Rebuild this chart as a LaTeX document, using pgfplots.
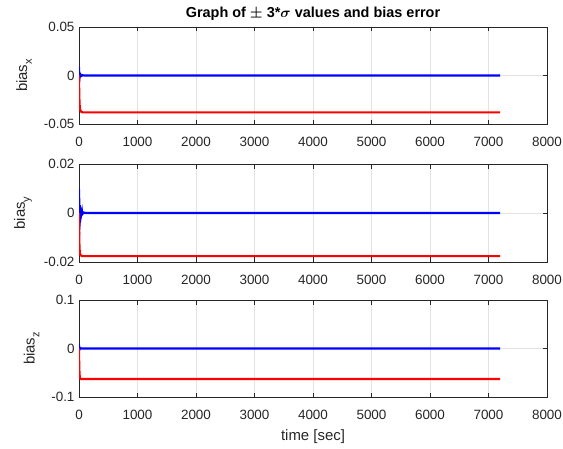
\documentclass[border=0pt]{standalone}
\usepackage{pgfplots}
\pgfplotsset{compat=1.18}
\usepackage{fontspec}
\setmainfont{Liberation Sans}
\definecolor{axgray}{HTML}{262626}
\definecolor{gridgray}{HTML}{E3E3E3}
\pgfplotsset{
  mlab/.style={
    scale only axis, width=468bp, height=97bp,
    xmin=0, xmax=8000,
    xtick={0,1000,2000,3000,4000,5000,6000,7000,8000},
    xticklabels={0,1000,2000,3000,4000,5000,6000,7000,8000},
    scaled x ticks=false, scaled y ticks=false,
    grid=major,
    grid style={gridgray, line width=0.5bp},
    axis line style={axgray, line width=0.6bp},
    tick style={axgray, line width=0.6bp},
    tick align=inside,
    major tick length=4.5bp,
    ticklabel style={font=\fontsize{13.5}{13.5}\selectfont, text=axgray},
    xticklabel style={yshift=-10bp},
    yticklabel style={xshift=-1bp},
    label style={font=\fontsize{15}{15}\selectfont, text=axgray},
    ylabel style={yshift=5bp},
    xlabel style={yshift=-3bp},
    every axis plot/.append style={line width=2.2bp},
    clip=true,
  }
}
\begin{document}
\begin{tikzpicture}
\path[use as bounding box] (0,0) rectangle (563bp,-449bp);
% top
\begin{axis}[mlab, at={(79bp,-27bp)}, anchor=north west,
  ymin=-0.05, ymax=0.05, ytick={-0.05,0,0.05}, yticklabels={-0.05,0,0.05},
  ylabel={bias\raisebox{-0.6ex}{\fontsize{11}{11}\selectfont x}},
  title={\textbf{Graph of \boldmath$\pm$ 3*$\sigma$ values and bias error}},
  title style={font=\fontsize{14.5}{14.5}\selectfont, text=black, yshift=-3bp}]
\addplot[blue] coordinates {(0,0.0088) (2,-0.0077) (5,0.004) (8,-0.003) (14,0.0015) (18,-0.001) (30,0.0006) (40,-0.0004) (60,0.0002) (100,0) (7200,0)};
\addplot[red] coordinates {(0,0) (3,-0.015) (8,-0.028) (15,-0.034) (30,-0.037) (60,-0.038) (7200,-0.038)};
\end{axis}
% middle
\begin{axis}[mlab, at={(79bp,-164bp)}, anchor=north west, height=98bp,
  ymin=-0.02, ymax=0.02, ytick={-0.02,0,0.02}, yticklabels={-0.02,0,0.02},
  ylabel={bias\raisebox{-0.6ex}{\fontsize{11}{11}\selectfont y}}]
\addplot[blue] coordinates {(0,0.0097) (2,-0.009) (6,0.006) (9,-0.0055) (15,0.0032) (19,-0.003) (30,0.0015) (34,-0.0013) (50,0.0006) (55,-0.0005) (80,0.0002) (120,0) (7200,0)};
\addplot[red] coordinates {(0,0) (3,-0.009) (8,-0.014) (15,-0.0165) (30,-0.0173) (60,-0.0176) (7200,-0.0176)};
\end{axis}
% bottom
\begin{axis}[mlab, at={(79bp,-300bp)}, anchor=north west,
  ymin=-0.1, ymax=0.1, ytick={-0.1,0,0.1}, yticklabels={-0.1,0,0.1},
  ylabel={bias\raisebox{-0.6ex}{\fontsize{11}{11}\selectfont z}},
  xlabel={time [sec]}]
\addplot[blue] coordinates {(0,0.007) (3,-0.004) (8,0.002) (15,-0.001) (30,0.0004) (60,0) (7200,0)};
\addplot[red] coordinates {(0,0) (3,-0.03) (8,-0.052) (15,-0.06) (30,-0.063) (7200,-0.063)};
\end{axis}
\end{tikzpicture}
\end{document}
